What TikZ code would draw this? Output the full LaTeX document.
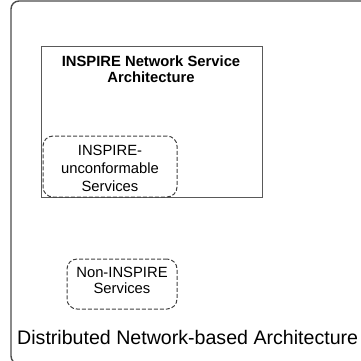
\documentclass[tikz,border=0pt]{standalone}
\usepackage{fontspec}
\setmainfont{Liberation Sans}
\begin{document}
\begin{tikzpicture}[x=1pt,y=-1pt,
  outerbox/.style={draw=black!70,line width=1.4pt,rounded corners=8pt},
  innerbox/.style={draw=black!65,line width=1pt},
  dashbox/.style={draw=black!75,line width=1pt,dash pattern=on 4pt off 2pt,rounded corners=10pt},
  lbl/.style={inner sep=0pt,align=center,font=\fontsize{14.8}{16}\selectfont}]
\useasboundingbox (0,0) rectangle (361,360);
\clip (0,0) rectangle (361,360);
\draw[outerbox] (11,1) rectangle (372,364);
\node[innerbox,minimum width=221pt,minimum height=151pt,inner sep=0pt] (nsa) at (151.5,121.5) {};
\node[dashbox,minimum width=134pt,minimum height=61pt,inner sep=0pt] (unc) at (110,166.5) {};
\node[dashbox,minimum width=110pt,minimum height=50pt,inner sep=0pt] (non) at (122,284) {};
\node[lbl,anchor=base,font=\bfseries\fontsize{14.8}{16}\selectfont] (t1) at (151,66) {INSPIRE Network Service};
\node[lbl,anchor=base,font=\bfseries\fontsize{14.8}{16}\selectfont] (t2) at (151,82) {Architecture};
\node[lbl,anchor=base] (u1) at (110,155) {INSPIRE-};
\node[lbl,anchor=base] (u2) at (110,173) {unconformable};
\node[lbl,anchor=base] (u3) at (110,191) {Services};
\node[lbl,anchor=base] (n1) at (122,277) {Non-INSPIRE};
\node[lbl,anchor=base] (n2) at (122,293) {Services};
\node[lbl,anchor=base west,font=\fontsize{19.6}{22}\selectfont] (dna) at (17,344) {Distributed Network-based Architecture};
\end{tikzpicture}
\end{document}
